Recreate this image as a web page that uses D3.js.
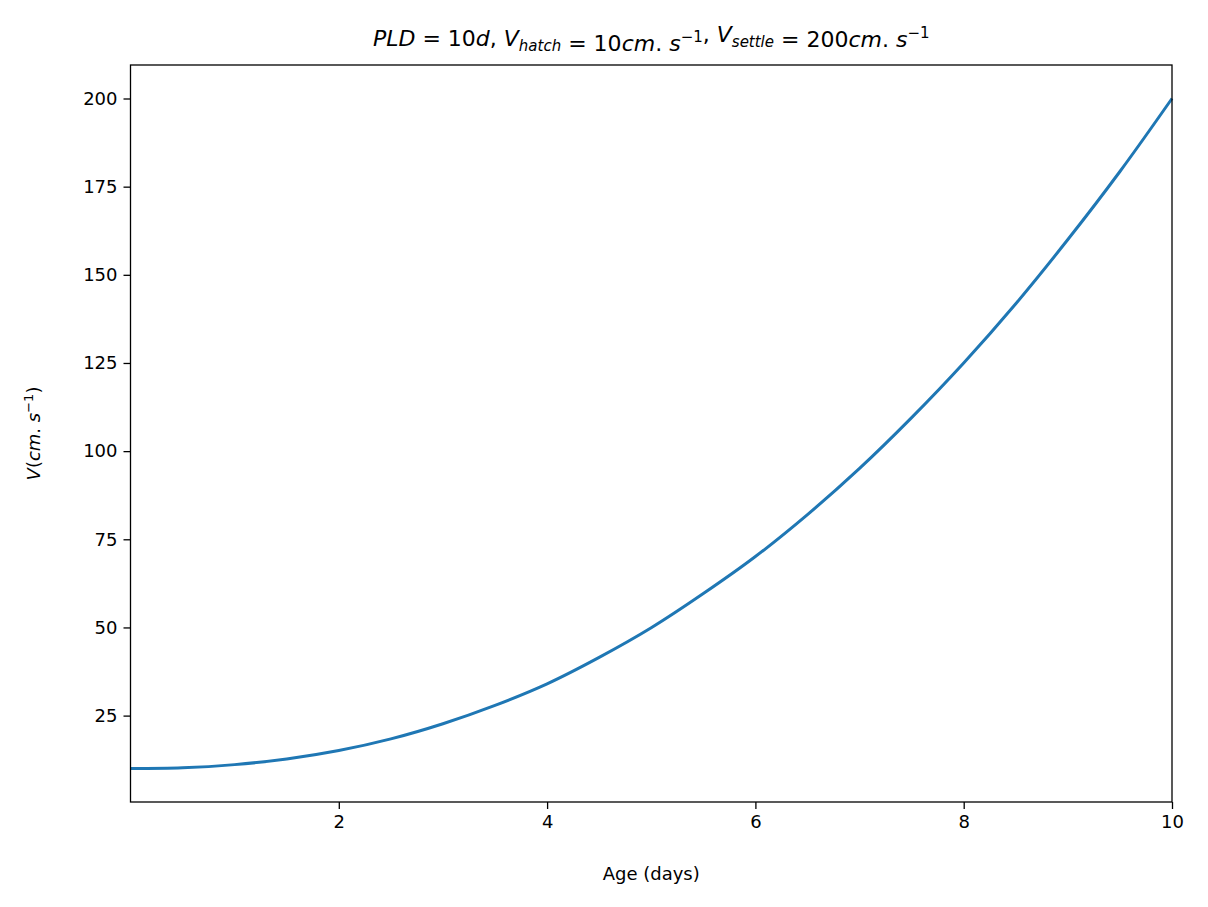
<!DOCTYPE html>
<html><head><meta charset="utf-8">
<script src="https://cdn.jsdelivr.net/npm/d3@7"></script>
<style>body{margin:0;background:#fff}text{font-family:"DejaVu Sans",sans-serif;fill:#000}</style>
</head><body><script>
var ages = [0,0.5,1,1.5,2,2.5,3,3.5,4,4.5,5,5.5,6,6.5,7,7.5,8,8.5,9,9.5,10];
var speeds = [10,10.2,11.1,12.7,15.1,18.4,22.7,27.9,34,41.5,49.9,59.6,70.1,82,95.1,109.5,125,141.8,160,179.3,200];
var xTicks = [2,4,6,8,10];
var yTicks = [25,50,75,100,125,150,175,200];

var width = 1208, height = 907;
var m = {l:130.5, r:1172, t:65, b:802};
var svg = d3.select("body").append("svg").attr("width",width).attr("height",height);
var x = d3.scaleLinear().domain([0,10]).range([m.l,m.r]);
var y = d3.scaleLinear().domain([0.5,209.5]).range([m.b,m.t]);

var line = d3.line().x(function(d,i){return x(ages[i]);}).y(function(d){return y(d);}).curve(d3.curveCatmullRom);
svg.append("path").datum(speeds).attr("d",line).attr("fill","none")
  .attr("stroke","#1f77b4").attr("stroke-width",3);

var xa = svg.append("g").attr("transform","translate(0,"+m.b+")")
  .call(d3.axisBottom(x).tickValues(xTicks).tickSize(7).tickPadding(6).tickFormat(d3.format("d")));
var ya = svg.append("g").attr("transform","translate("+m.l+",0)")
  .call(d3.axisLeft(y).tickValues(yTicks).tickSize(7).tickPadding(6));
[xa,ya].forEach(function(a){
  a.select(".domain").remove();
  a.selectAll("line").attr("stroke","#000").attr("stroke-width",1.3);
  a.selectAll("text").style("font-size","18px").style("font-family","DejaVu Sans");
});
svg.append("rect").attr("x",m.l).attr("y",m.t).attr("width",m.r-m.l).attr("height",m.b-m.t)
  .attr("fill","none").attr("stroke","#000").attr("stroke-width",1.3);

svg.append("text").attr("x",(m.l+m.r)/2).attr("y",880).attr("text-anchor","middle")
  .style("font-size","18px").text("Age (days)");

var yl = svg.append("text").attr("transform","translate(40,"+((m.t+m.b)/2)+") rotate(-90)")
  .attr("text-anchor","middle").style("font-size","18px");
yl.append("tspan").style("font-style","italic").text("V");
yl.append("tspan").text("(");
yl.append("tspan").style("font-style","italic").text("cm");
yl.append("tspan").text(". ");
yl.append("tspan").style("font-style","italic").text("s");
yl.append("tspan").attr("dy",-7).style("font-size","13px").text("−1");
yl.append("tspan").attr("dy",7).text(")");

var t = svg.append("text").attr("x",(m.l+m.r)/2).attr("y",46).attr("text-anchor","middle").style("font-size","22px");
function it(s){t.append("tspan").style("font-style","italic").text(s);}
function rm(s){t.append("tspan").text(s);}
function sub(s){t.append("tspan").attr("dy",5).style("font-size","15px").style("font-style","italic").text(s);t.append("tspan").attr("dy",-5).text("");}
function sup(s){t.append("tspan").attr("dy",-9).style("font-size","15px").text(s);t.append("tspan").attr("dy",9).text("");}
it("PLD"); rm(" = 10"); it("d"); rm(", "); it("V"); sub("hatch"); rm(" = 10"); it("cm"); rm(". "); it("s"); sup("−1");
rm(", "); it("V"); sub("settle"); rm(" = 200"); it("cm"); rm(". "); it("s"); sup("−1");
</script></body></html>
